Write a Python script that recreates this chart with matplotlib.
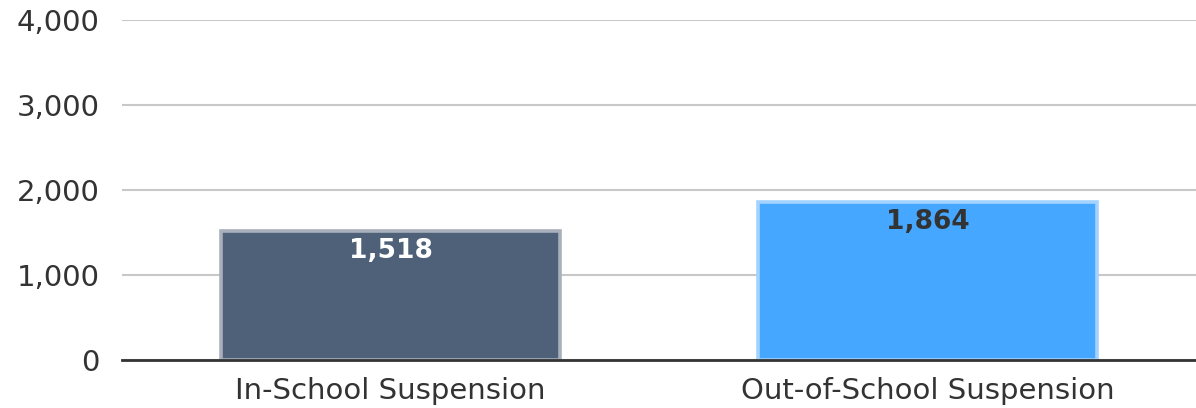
import matplotlib
matplotlib.use("Agg")
import matplotlib.pyplot as plt

# suspension counts by type
categories = ["In-School Suspension", "Out-of-School Suspension"]
counts = [1518, 1864]
y_ticks = [0, 1000, 2000, 3000, 4000]

bar_colors = ["#4f6079", "#45a7ff"]
edge_colors = ["#a9b0bc", "#a3d3ff"]
label_colors = ["#ffffff", "#333333"]

plt.rcParams["font.family"] = ["DejaVu Sans"]

fig = plt.figure(figsize=(11.96, 4.08), dpi=100)
ax = fig.add_axes([122 / 1196, 48 / 408, 1 - 122 / 1196, 340 / 408])

x = list(range(len(categories)))
bars = ax.bar(x, counts, width=0.633, color=bar_colors,
              edgecolor=edge_colors, linewidth=2.6, zorder=2)

for bar, val, col in zip(bars, counts, label_colors):
    ax.annotate(f"{val:,}", (bar.get_x() + bar.get_width() / 2, val),
                xytext=(0, -5), textcoords="offset points",
                ha="center", va="top", fontsize=19, fontweight="bold",
                color=col, zorder=3)

ax.set_xlim(-0.5, 1.5)
ax.set_ylim(0, 4000)
ax.set_yticks(y_ticks)
ax.set_yticklabels([f"{t:,}" for t in y_ticks])
ax.set_xticks(x)
ax.set_xticklabels(categories)

ax.grid(axis="y", color="#c8c8c8", linewidth=1.5, zorder=0)
ax.set_axisbelow(True)
ax.axhline(0, color="#333333", linewidth=2, zorder=4, clip_on=False)

for side in ["top", "right", "left", "bottom"]:
    ax.spines[side].set_visible(False)

ax.tick_params(axis="y", length=0, pad=16, labelsize=21, labelcolor="#333333")
ax.tick_params(axis="x", length=0, pad=12, labelsize=21, labelcolor="#333333")

fig.savefig("out.png", dpi=100)
